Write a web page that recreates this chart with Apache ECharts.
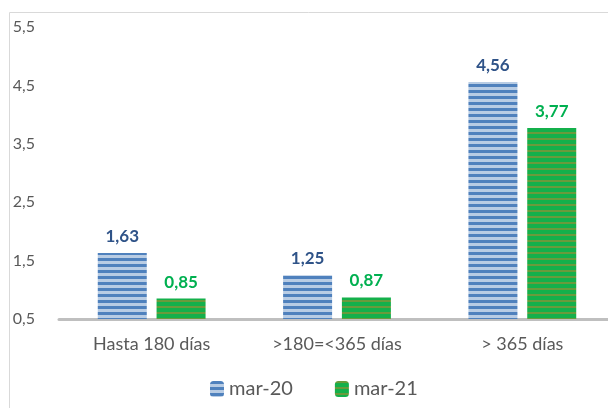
<!DOCTYPE html>
<html><head><meta charset="utf-8">
<script src="https://cdn.jsdelivr.net/npm/echarts@6/dist/echarts.min.js"></script>
<style>html,body{margin:0;padding:0;background:#fff}#c{width:608px;height:408px}</style>
</head><body><div id="c"></div>
<script>
const categories = ['Hasta 180 días', '>180=<365 días', '> 365 días'];
const seriesNames = ['mar-20', 'mar-21'];
const mar20 = [1.63, 1.25, 4.56];
const mar21 = [0.85, 0.87, 3.77];
const yTicks = [0.5, 1.5, 2.5, 3.5, 4.5, 5.5];

function stripes(base, stripe, period, dark) {
  const c = document.createElement('canvas');
  c.width = 4; c.height = period;
  const g = c.getContext('2d');
  g.fillStyle = base; g.fillRect(0, 0, 4, period);
  g.fillStyle = stripe; g.fillRect(0, 0, 4, dark);
  return c;
}
const bluePat = { image: stripes('#b8cce4', '#4f81bd', 6, 3), repeat: 'repeat' };
const greenPat = { image: stripes('#14b04b', '#6a9a3c', 6, 2), repeat: 'repeat' };

const chart = echarts.init(document.getElementById('c'), null, { renderer: 'canvas' });
const fmt = v => String(v.value !== undefined ? v.value : v).replace('.', ',');
chart.setOption({
  animation: false,
  textStyle: { fontFamily: 'Lato' },
  graphic: [{
    type: 'polyline', silent: true,
    shape: { points: [[9.5, 408], [9.5, 12.5], [608, 12.5]] },
    style: { stroke: '#d9d9d9', lineWidth: 1, fill: null }
  }],
  grid: { left: 59, width: 556, top: 27, bottom: 89, outerBoundsMode: 'none', containLabel: false },
  legend: {
    top: 374, left: 205, itemWidth: 14, itemHeight: 16, itemGap: 42,
    textStyle: { fontSize: 20, color: '#595959', fontFamily: 'Lato' },
    data: seriesNames
  },
  xAxis: {
    type: 'category', data: categories,
    axisLine: { lineStyle: { color: '#bfbfbf', width: 3 } },
    axisTick: { show: false },
    axisLabel: { fontSize: 18, color: '#595959', margin: 16 }
  },
  yAxis: {
    type: 'value', min: yTicks[0], max: yTicks[yTicks.length - 1], interval: 1,
    splitLine: { show: false }, axisLine: { show: false }, axisTick: { show: false },
    axisLabel: { fontSize: 16, color: '#595959', margin: 24, formatter: v => String(v).replace('.', ',') }
  },
  series: [
    { name: seriesNames[0], type: 'bar', data: mar20, barWidth: 49, barGap: '20%',
      itemStyle: { color: bluePat },
      label: { show: true, position: 'top', distance: 8, fontSize: 17, fontWeight: 'bold', color: '#2f5388', formatter: fmt } },
    { name: seriesNames[1], type: 'bar', data: mar21, barWidth: 49,
      itemStyle: { color: greenPat },
      label: { show: true, position: 'top', distance: 8, fontSize: 17, fontWeight: 'bold', color: '#00b050', formatter: fmt } }
  ]
});
</script></body></html>
